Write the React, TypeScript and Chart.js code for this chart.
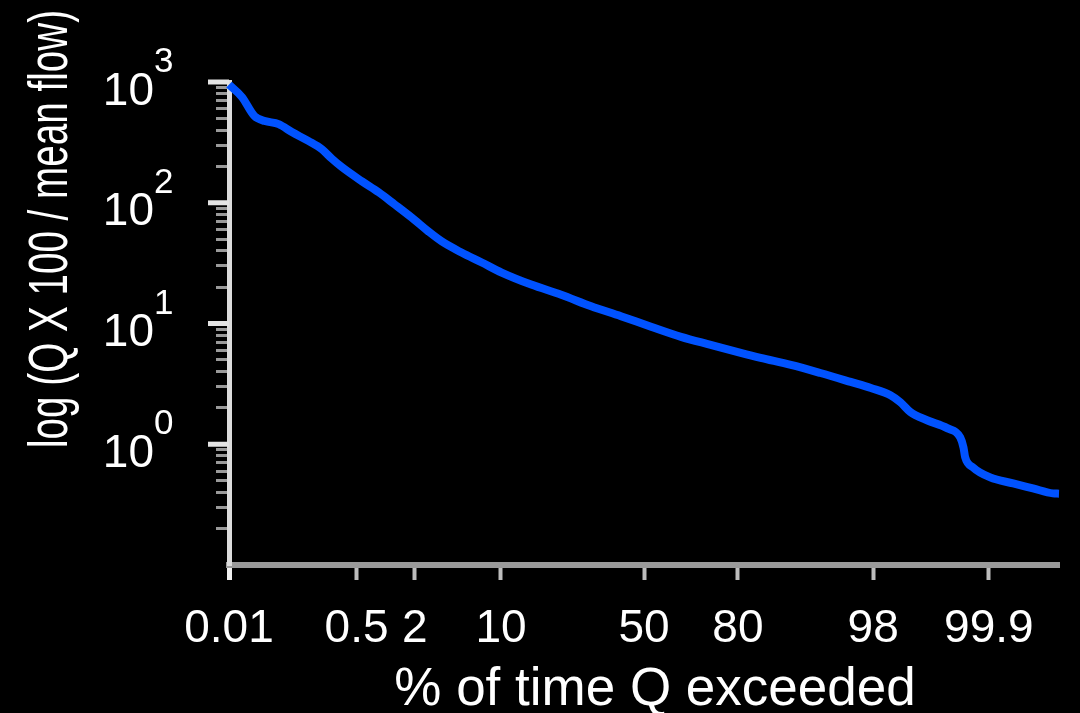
import React, { useEffect, useRef } from 'react';
import { Chart, registerables, Scale } from 'chart.js';

Chart.register(...registerables);

// ---- data ----
const PCT_EXCEEDED = [
  0.01, 0.0157, 0.024, 0.034, 0.053, 0.08, 0.133, 0.194, 0.257, 0.34,
  0.57, 0.87, 1.27, 1.86, 2.67, 3.5, 5.1, 7.3, 10.1, 15.6,
  22.9, 31.8, 41.8, 52.5, 63, 72.5, 80.7, 85.2, 90.6, 94.3,
  96.8, 97.9, 98.64, 98.92, 99.15, 99.44, 99.67, 99.77, 99.79, 99.8,
  99.84, 99.904, 99.953, 99.9755, 99.9876, 99.99,
];
const Q_RATIO = [
  950, 752, 523, 475, 448, 385, 324, 278, 232, 197,
  151, 122, 97, 75.6, 57.8, 47.8, 38.7, 32.0, 26.4, 21.0,
  17.3, 13.9, 11.5, 9.4, 7.75, 6.65, 5.71, 5.19, 4.54, 3.89,
  3.28, 2.92, 2.55, 2.23, 1.85, 1.58, 1.36, 1.14, 0.944, 0.78,
  0.644, 0.532, 0.474, 0.431, 0.392, 0.39,
];
const X_TICKS = [0.01, 0.5, 2, 10, 50, 80, 98, 99.9];
const X_MIN = 0.01;
const X_MAX = 99.99;
const Y_MIN = 0.1;
const Y_MAX = 1000;
const Y_MAJOR = [1, 10, 100, 1000];
const Y_EXPONENTS = ['0', '1', '2', '3'];
const Y_MINOR = [
  0.2, 0.3, 0.4, 0.5, 0.6, 0.7, 0.8, 0.9,
  2, 3, 4, 5, 6, 7, 8, 9,
  20, 30, 40, 50, 60, 70, 80, 90,
  200, 300, 400, 500, 600, 700, 800, 900,
];
const X_TITLE = '% of time Q exceeded';
const Y_TITLE = 'log (Q X 100 / mean flow)';

const FONT = '"Liberation Sans", Arial, Helvetica, sans-serif';

// ---- normal probability helpers for the probability axis ----
function probit(p: number): number {
  const a = [-3.969683028665376e1, 2.209460984245205e2, -2.759285104469687e2, 1.38357751867269e2, -3.066479806614716e1, 2.506628277459239];
  const b = [-5.447609879822406e1, 1.615858368580409e2, -1.556989798598866e2, 6.680131188771972e1, -1.328068155288572e1];
  const c = [-7.784894002430293e-3, -3.223964580411365e-1, -2.400758277161838, -2.549732539343734, 4.374664141464968, 2.938163982698783];
  const d = [7.784695709041462e-3, 3.224671290700398e-1, 2.445134137142996, 3.754408661907416];
  const plow = 0.02425;
  const phigh = 1 - plow;
  let q: number;
  let r: number;
  if (p < plow) {
    q = Math.sqrt(-2 * Math.log(p));
    return (((((c[0] * q + c[1]) * q + c[2]) * q + c[3]) * q + c[4]) * q + c[5]) /
      ((((d[0] * q + d[1]) * q + d[2]) * q + d[3]) * q + 1);
  }
  if (p <= phigh) {
    q = p - 0.5;
    r = q * q;
    return ((((((a[0] * r + a[1]) * r + a[2]) * r + a[3]) * r + a[4]) * r + a[5]) * q) /
      (((((b[0] * r + b[1]) * r + b[2]) * r + b[3]) * r + b[4]) * r + 1);
  }
  q = Math.sqrt(-2 * Math.log(1 - p));
  return -(((((c[0] * q + c[1]) * q + c[2]) * q + c[3]) * q + c[4]) * q + c[5]) /
    ((((d[0] * q + d[1]) * q + d[2]) * q + d[3]) * q + 1);
}

function normCdf(z: number): number {
  const t = 1 / (1 + 0.3275911 * Math.abs(z) / Math.SQRT2);
  const y = 1 - (((((1.061405429 * t - 1.453152027) * t) + 1.421413741) * t - 0.284496736) * t + 0.254829592) * t * Math.exp(-(z * z) / 2);
  return z >= 0 ? (1 + y) / 2 : (1 - y) / 2;
}

class ProbitScale extends Scale {
  static id = 'probit';
  static defaults = {};
  determineDataLimits() {
    (this as any).min = X_MIN;
    (this as any).max = X_MAX;
  }
  buildTicks() {
    return X_TICKS.map((value) => ({ value }));
  }
  getLabelForValue(value: number) {
    return String(value);
  }
  getPixelForValue(value: number) {
    const self = this as any;
    const z0 = probit(self.min / 100);
    const z1 = probit(self.max / 100);
    return self.getPixelForDecimal((probit(value / 100) - z0) / (z1 - z0));
  }
  getValueForPixel(pixel: number) {
    const self = this as any;
    const z0 = probit(self.min / 100);
    const z1 = probit(self.max / 100);
    const z = z0 + self.getDecimalForPixel(pixel) * (z1 - z0);
    return normCdf(z) * 100;
  }
}
Chart.register(ProbitScale as any);

const decorPlugin = {
  id: 'decor',
  beforeDatasetsDraw(chart: any) {
    const ctx = chart.ctx as CanvasRenderingContext2D;
    const ys = chart.scales.y;
    const left = chart.chartArea.left;
    ctx.save();
    // long major ticks on the y axis
    ctx.strokeStyle = '#e4e4e4';
    ctx.lineWidth = 5;
    for (const v of Y_MAJOR) {
      const py = ys.getPixelForValue(v);
      ctx.beginPath();
      ctx.moveTo(left - 21, py);
      ctx.lineTo(left, py);
      ctx.stroke();
    }
    // y tick labels "10" with superscript exponent
    ctx.fillStyle = '#ffffff';
    ctx.textBaseline = 'alphabetic';
    Y_MAJOR.forEach((v, i) => {
      const py = ys.getPixelForValue(v);
      ctx.font = `46px ${FONT}`;
      ctx.textAlign = 'right';
      ctx.fillText('10', left - 75, py + 22.5);
      ctx.font = `35px ${FONT}`;
      ctx.textAlign = 'left';
      ctx.fillText(Y_EXPONENTS[i], left - 75, py - 10);
    });
    // y title (rotated, narrow)
    ctx.save();
    ctx.font = `56px ${FONT}`;
    ctx.textAlign = 'center';
    ctx.textBaseline = 'alphabetic';
    const w = ctx.measureText(Y_TITLE).width;
    ctx.translate(67, 229);
    ctx.rotate(-Math.PI / 2);
    ctx.scale(438 / w, 1);
    ctx.fillText(Y_TITLE, 0, 0);
    ctx.restore();
    // x title
    ctx.font = `53px ${FONT}`;
    ctx.textAlign = 'center';
    ctx.fillText(X_TITLE, 655, 705);
    ctx.restore();
  },
};

export default function App() {
  const ref = useRef<HTMLCanvasElement | null>(null);
  useEffect(() => {
    document.body.style.margin = '0';
    document.body.style.background = '#000';
    const canvas = ref.current;
    if (!canvas) return;
    const chart = new Chart(canvas, {
      type: 'line',
      data: {
        datasets: [
          {
            data: PCT_EXCEEDED.map((p, i) => ({ x: p, y: Q_RATIO[i] })),
            borderColor: '#0052ff',
            borderWidth: 8,
            pointRadius: 0,
            fill: false,
            cubicInterpolationMode: 'monotone',
            clip: false as any,
          },
        ],
      },
      options: {
        animation: false,
        responsive: false,
        maintainAspectRatio: false,
        events: [],
        layout: { padding: { top: 82, right: 21, left: 0, bottom: 0 } },
        plugins: { legend: { display: false }, tooltip: { enabled: false } },
        scales: {
          x: {
            type: 'probit' as any,
            position: 'bottom',
            afterFit: (s: any) => {
              s.height = 148;
            },
            grid: {
              display: true,
              drawOnChartArea: false,
              drawTicks: true,
              tickLength: 15,
              tickWidth: (c: any) => (c.index === 0 ? 5 : 4),
              tickColor: (c: any) => (c.index === 0 ? '#f0f0f0' : '#bdbdbd'),
            },
            border: { display: true, color: '#9a9a9a', width: 6 },
            ticks: {
              autoSkip: false,
              maxRotation: 0,
              minRotation: 0,
              color: '#ffffff',
              padding: 22,
              font: { family: FONT, size: 46 },
              callback: (v: any) => String(v),
            },
          } as any,
          y: {
            type: 'logarithmic',
            min: Y_MIN,
            max: Y_MAX,
            afterBuildTicks: (s: any) => {
              s.ticks = Y_MINOR.concat(Y_MAJOR)
                .sort((a, b) => a - b)
                .map((v) => ({ value: v, major: Y_MAJOR.includes(v) }));
            },
            afterFit: (s: any) => {
              s.width = 229;
            },
            grid: {
              display: true,
              drawOnChartArea: false,
              drawTicks: true,
              tickLength: 13,
              tickWidth: 3,
              tickColor: '#9a9a9a',
            },
            border: { display: true, color: '#dcdcdc', width: 5 },
            ticks: { display: false },
          },
        },
      },
      plugins: [decorPlugin],
    });
    return () => chart.destroy();
  }, []);
  return (
    <div style={{ width: 1080, height: 713, background: '#000' }}>
      <canvas ref={ref} width={1080} height={713} style={{ display: 'block', width: 1080, height: 713 }} />
    </div>
  );
}
